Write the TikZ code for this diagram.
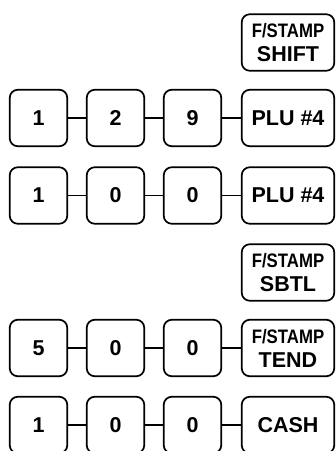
\documentclass[tikz,border=0pt]{standalone}
\usepackage{fontspec}
\setmainfont{Liberation Sans}
\usetikzlibrary{shapes,arrows}

\begin{document}
\begin{tikzpicture}[x=1pt,y=-1pt]
		\tikzstyle {key} = [draw, line width=1.7pt, rounded corners=8pt, inner sep=0pt, minimum width=57.5pt, minimum height=56.5pt, align=center, font=\fontsize{21.5}{24}\selectfont\bfseries]
		\tikzstyle {wide key} = [key, minimum width=92.5pt]
		\tikzstyle {link} = [line width=1.7pt]

		\useasboundingbox (0,0) rectangle (336,451);

		% shift before the first item
		\node[wide key] (shift) at (288, 42.5) {{\fontsize{19.5}{24}\selectfont\scalebox{0.86}[1]{F/STAMP}}\\SHIFT};

		% first item
		\node[key] (a1) at (38.5, 118) {1};
		\node[key] (a2) at (115.5, 118) {2};
		\node[key] (a3) at (192.5, 118) {9};
		\node[wide key] (a4) at (288, 118) {PLU \#4};
		\draw[link] (a1) -- (a2);
		\draw[link] (a2) -- (a3);
		\draw[link] (a3) -- (a4);

		% second item
		\node[key] (b1) at (38.5, 195.5) {1};
		\node[key] (b2) at (115.5, 195.5) {0};
		\node[key] (b3) at (192.5, 195.5) {0};
		\node[wide key] (b4) at (288, 195.5) {PLU \#4};
		\draw[link] (b1) -- (b2);
		\draw[link] (b2) -- (b3);
		\draw[link] (b3) -- (b4);

		% subtotal
		\node[wide key] (sbtl) at (288, 272.5) {{\fontsize{19.5}{24}\selectfont\scalebox{0.86}[1]{F/STAMP}}\\SBTL};

		% tender
		\node[key] (c1) at (38.5, 348) {5};
		\node[key] (c2) at (115.5, 348) {0};
		\node[key] (c3) at (192.5, 348) {0};
		\node[wide key] (c4) at (288, 348) {{\fontsize{19.5}{24}\selectfont\scalebox{0.86}[1]{F/STAMP}}\\TEND};
		\draw[link] (c1) -- (c2);
		\draw[link] (c2) -- (c3);
		\draw[link] (c3) -- (c4);

		% cash
		\node[key] (d1) at (38.5, 425) {1};
		\node[key] (d2) at (115.5, 425) {0};
		\node[key] (d3) at (192.5, 425) {0};
		\node[wide key] (d4) at (288, 425) {CASH};
		\draw[link] (d1) -- (d2);
		\draw[link] (d2) -- (d3);
		\draw[link] (d3) -- (d4);
	\end{tikzpicture}
\end{document}
